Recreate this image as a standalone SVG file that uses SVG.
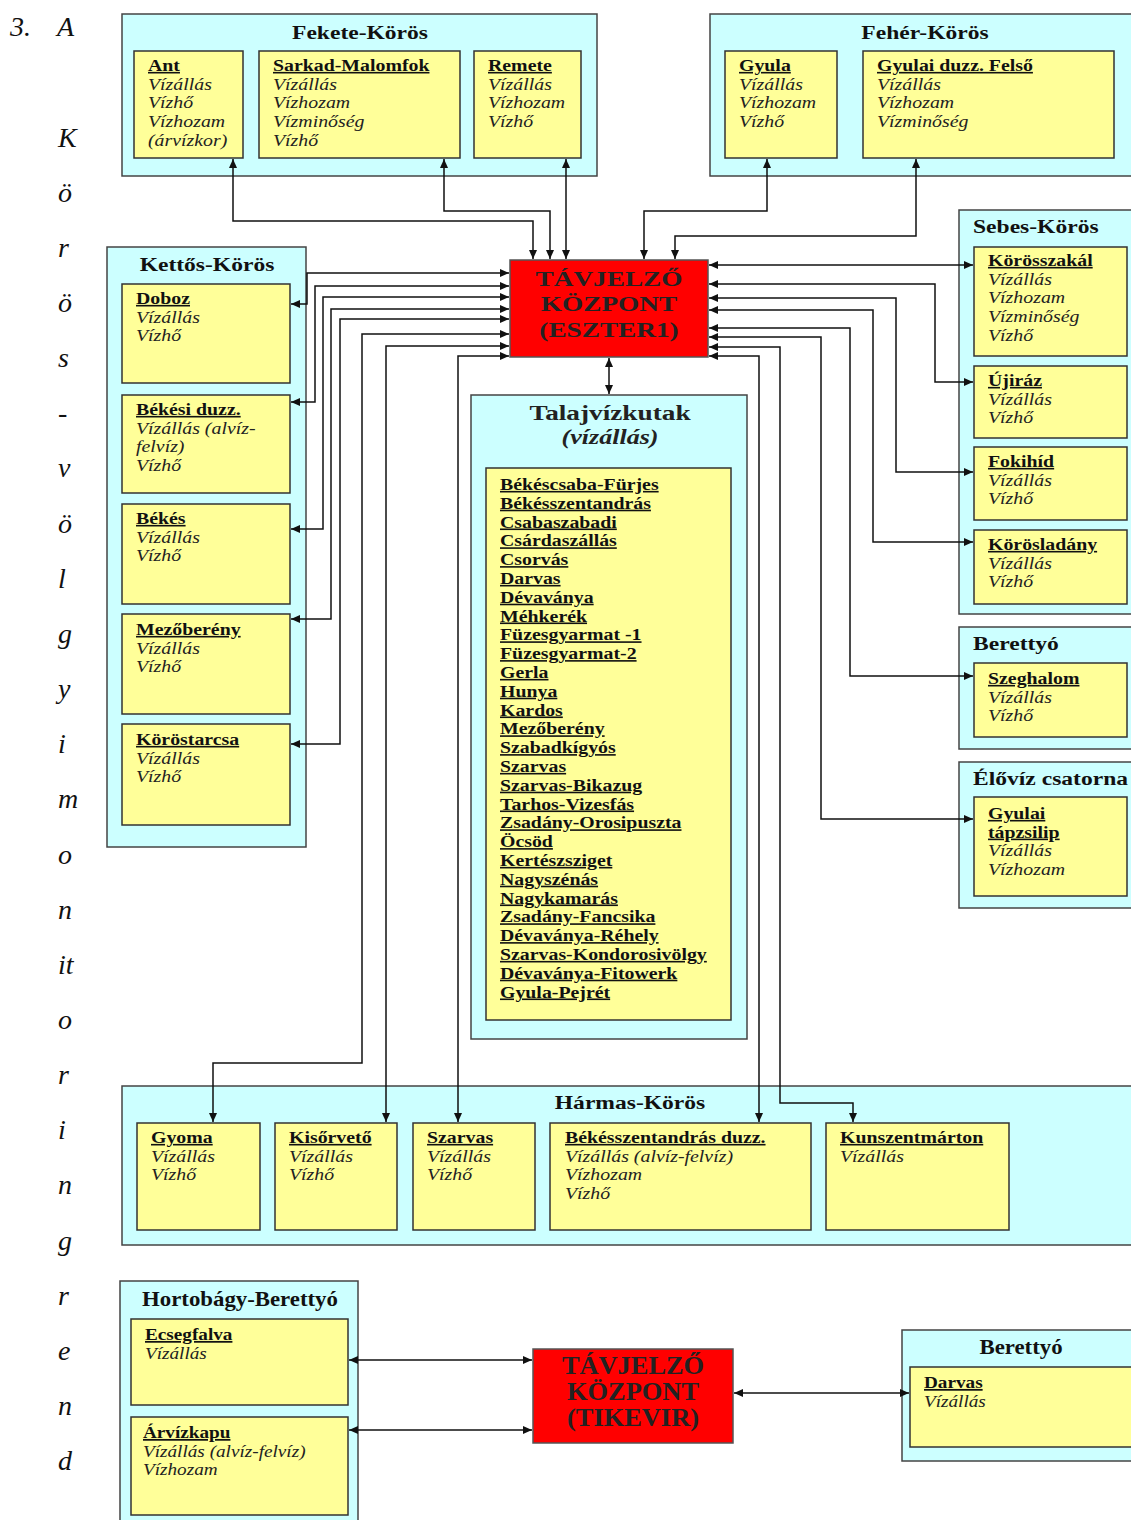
<svg xmlns="http://www.w3.org/2000/svg" width="1131" height="1520" viewBox="0 0 1131 1520">
<defs>
<style>
text{font-family:"Liberation Serif","Times New Roman",serif;fill:#111}
.grp{fill:#CCFFFF;stroke:#444;stroke-width:1.5}
.nd{fill:#FFFF99;stroke:#333;stroke-width:1.5}
.red{fill:#FF0000;stroke:#555;stroke-width:1.5}
.gt{font-size:19px;font-weight:bold}
.gc{font-size:19px;font-weight:bold;text-anchor:middle}
.nt{font-size:16px;font-weight:bold;text-decoration:underline}
.it{font-size:16px;font-style:italic;fill:#222}
.ct{font-size:22px;font-weight:bold;text-anchor:middle;fill:#222}
.side{font-size:28px;font-style:italic}
.cn{fill:none;stroke:#111;stroke-width:1.5;marker-start:url(#ah);marker-end:url(#ah)}
</style>
<marker id="ah" markerUnits="userSpaceOnUse" markerWidth="10" markerHeight="8" refX="9" refY="4" orient="auto-start-reverse">
<path d="M0,0 L9,4 L0,8 z" fill="#111"/>
</marker>
</defs>
<rect width="1131" height="1520" fill="#fff"/>

<g id="side-text">
<text class="side" x="10" y="36">3.</text>
<text class="side" x="57" y="36">A</text>
<text class="side" x="58" y="146.5">K</text>
<text class="side" x="58" y="201.7">ö</text>
<text class="side" x="58" y="256.8">r</text>
<text class="side" x="58" y="312">ö</text>
<text class="side" x="58" y="367.1">s</text>
<text class="side" x="58" y="422.3">-</text>
<text class="side" x="58" y="477.4">v</text>
<text class="side" x="58" y="532.6">ö</text>
<text class="side" x="58" y="587.7">l</text>
<text class="side" x="58" y="642.9">g</text>
<text class="side" x="58" y="698">y</text>
<text class="side" x="58" y="753.2">i</text>
<text class="side" x="58" y="808.3">m</text>
<text class="side" x="58" y="863.5">o</text>
<text class="side" x="58" y="918.6">n</text>
<text class="side" x="58" y="973.8">it</text>
<text class="side" x="58" y="1028.9">o</text>
<text class="side" x="58" y="1084.1">r</text>
<text class="side" x="58" y="1139.2">i</text>
<text class="side" x="58" y="1194.4">n</text>
<text class="side" x="58" y="1249.5">g</text>
<text class="side" x="58" y="1304.7">r</text>
<text class="side" x="58" y="1359.8">e</text>
<text class="side" x="58" y="1415">n</text>
<text class="side" x="58" y="1470.1">d</text>
</g>

<g id="fekete-koros">
<rect class="grp" x="122" y="14" width="475" height="162"/>
<g transform="translate(360,39) scale(1.24,1)"><text class="gc">Fekete-Körös</text></g>
</g>
<g id="ant">
<rect class="nd" x="134" y="51" width="109" height="107"/>
<g transform="translate(148,71) scale(1.24,1)"><text class="nt">Ant</text><text class="it" y="18.7">Vízállás</text><text class="it" y="37.4">Vízhő</text><text class="it" y="56.1">Vízhozam</text><text class="it" y="74.8">(árvízkor)</text></g>
</g>
<g id="sarkad">
<rect class="nd" x="259" y="51" width="201" height="107"/>
<g transform="translate(273,71) scale(1.24,1)"><text class="nt">Sarkad-Malomfok</text><text class="it" y="18.7">Vízállás</text><text class="it" y="37.4">Vízhozam</text><text class="it" y="56.1">Vízminőség</text><text class="it" y="74.8">Vízhő</text></g>
</g>
<g id="remete">
<rect class="nd" x="474" y="51" width="107" height="107"/>
<g transform="translate(488,71) scale(1.24,1)"><text class="nt">Remete</text><text class="it" y="18.7">Vízállás</text><text class="it" y="37.4">Vízhozam</text><text class="it" y="56.1">Vízhő</text></g>
</g>

<g id="feher-koros">
<rect class="grp" x="710" y="14" width="430" height="162"/>
<g transform="translate(925,39) scale(1.24,1)"><text class="gc">Fehér-Körös</text></g>
</g>
<g id="gyula">
<rect class="nd" x="725" y="51" width="112" height="107"/>
<g transform="translate(739,71) scale(1.24,1)"><text class="nt">Gyula</text><text class="it" y="18.7">Vízállás</text><text class="it" y="37.4">Vízhozam</text><text class="it" y="56.1">Vízhő</text></g>
</g>
<g id="gyulai-duzz">
<rect class="nd" x="863" y="51" width="251" height="107"/>
<g transform="translate(877,71) scale(1.24,1)"><text class="nt">Gyulai duzz. Felső</text><text class="it" y="18.7">Vízállás</text><text class="it" y="37.4">Vízhozam</text><text class="it" y="56.1">Vízminőség</text></g>
</g>

<g id="sebes-koros">
<rect class="grp" x="959" y="210" width="180" height="404"/>
<g transform="translate(973,233) scale(1.24,1)"><text class="gt">Sebes-Körös</text></g>
</g>
<g id="korosszakal">
<rect class="nd" x="974" y="247" width="153" height="109"/>
<g transform="translate(988,266) scale(1.24,1)"><text class="nt">Körösszakál</text><text class="it" y="18.7">Vízállás</text><text class="it" y="37.4">Vízhozam</text><text class="it" y="56.1">Vízminőség</text><text class="it" y="74.8">Vízhő</text></g>
</g>
<g id="ujiraz">
<rect class="nd" x="974" y="366" width="153" height="72"/>
<g transform="translate(988,386) scale(1.24,1)"><text class="nt">Újiráz</text><text class="it" y="18.7">Vízállás</text><text class="it" y="37.4">Vízhő</text></g>
</g>
<g id="fokihid">
<rect class="nd" x="974" y="447" width="153" height="73"/>
<g transform="translate(988,467) scale(1.24,1)"><text class="nt">Fokihíd</text><text class="it" y="18.7">Vízállás</text><text class="it" y="37.4">Vízhő</text></g>
</g>
<g id="koroslladany">
<rect class="nd" x="974" y="530" width="153" height="74"/>
<g transform="translate(988,550) scale(1.24,1)"><text class="nt">Körösladány</text><text class="it" y="18.7">Vízállás</text><text class="it" y="37.4">Vízhő</text></g>
</g>

<g id="berettyo">
<rect class="grp" x="959" y="627" width="180" height="122"/>
<g transform="translate(973,650) scale(1.24,1)"><text class="gt">Berettyó</text></g>
</g>
<g id="szeghalom">
<rect class="nd" x="974" y="663" width="153" height="74"/>
<g transform="translate(988,684) scale(1.24,1)"><text class="nt">Szeghalom</text><text class="it" y="18.7">Vízállás</text><text class="it" y="37.4">Vízhő</text></g>
</g>

<g id="eloviz">
<rect class="grp" x="959" y="762" width="180" height="146"/>
<g transform="translate(973,785) scale(1.24,1)"><text class="gt">Élővíz csatorna</text></g>
</g>
<g id="gyulai-tapzsilip">
<rect class="nd" x="974" y="797" width="153" height="99"/>
<g transform="translate(988,819) scale(1.24,1)"><text class="nt">Gyulai</text><text class="nt" y="18.7">tápzsilip</text><text class="it" y="37.4">Vízállás</text><text class="it" y="56.1">Vízhozam</text></g>
</g>

<g id="kettos-koros">
<rect class="grp" x="107" y="247" width="199" height="600"/>
<g transform="translate(207,271) scale(1.24,1)"><text class="gc">Kettős-Körös</text></g>
</g>
<g id="doboz">
<rect class="nd" x="122" y="284" width="168" height="99"/>
<g transform="translate(136,304) scale(1.24,1)"><text class="nt">Doboz</text><text class="it" y="18.7">Vízállás</text><text class="it" y="37.4">Vízhő</text></g>
</g>
<g id="bekesi-duzz">
<rect class="nd" x="122" y="395" width="168" height="98"/>
<g transform="translate(136,415) scale(1.24,1)"><text class="nt">Békési duzz.</text><text class="it" y="18.7">Vízállás (alvíz-</text><text class="it" y="37.4">felvíz)</text><text class="it" y="56.1">Vízhő</text></g>
</g>
<g id="bekes">
<rect class="nd" x="122" y="504" width="168" height="100"/>
<g transform="translate(136,524) scale(1.24,1)"><text class="nt">Békés</text><text class="it" y="18.7">Vízállás</text><text class="it" y="37.4">Vízhő</text></g>
</g>
<g id="mezobereny">
<rect class="nd" x="122" y="614" width="168" height="100"/>
<g transform="translate(136,635) scale(1.24,1)"><text class="nt">Mezőberény</text><text class="it" y="18.7">Vízállás</text><text class="it" y="37.4">Vízhő</text></g>
</g>
<g id="korostarcsa">
<rect class="nd" x="122" y="724" width="168" height="101"/>
<g transform="translate(136,745) scale(1.24,1)"><text class="nt">Köröstarcsa</text><text class="it" y="18.7">Vízállás</text><text class="it" y="37.4">Vízhő</text></g>
</g>

<g id="eszter1">
<rect class="red" x="510" y="260" width="198" height="97"/>
<g transform="translate(609,286) scale(1.24,1)"><text class="ct">TÁVJELZŐ</text><text class="ct" y="25.5">KÖZPONT</text><text class="ct" y="51">(ESZTER1)</text></g>
</g>

<g id="talajvizkutak">
<rect class="grp" x="471" y="395" width="276" height="644"/>
<g transform="translate(610,420) scale(1.24,1)"><text class="ct">Talajvízkutak</text><text class="ct" y="24" style="font-size:21px;font-style:italic">(vízállás)</text></g>
<rect class="nd" x="486" y="468" width="245" height="552"/>
<g transform="translate(500,490) scale(1.24,1)">
<text class="nt">Békéscsaba-Fürjes</text>
<text class="nt" y="18.8">Békésszentandrás</text>
<text class="nt" y="37.6">Csabaszabadi</text>
<text class="nt" y="56.4">Csárdaszállás</text>
<text class="nt" y="75.2">Csorvás</text>
<text class="nt" y="94">Darvas</text>
<text class="nt" y="112.8">Dévaványa</text>
<text class="nt" y="131.6">Méhkerék</text>
<text class="nt" y="150.4">Füzesgyarmat -1</text>
<text class="nt" y="169.2">Füzesgyarmat-2</text>
<text class="nt" y="188">Gerla</text>
<text class="nt" y="206.8">Hunya</text>
<text class="nt" y="225.6">Kardos</text>
<text class="nt" y="244.4">Mezőberény</text>
<text class="nt" y="263.2">Szabadkígyós</text>
<text class="nt" y="282">Szarvas</text>
<text class="nt" y="300.8">Szarvas-Bikazug</text>
<text class="nt" y="319.6">Tarhos-Vizesfás</text>
<text class="nt" y="338.4">Zsadány-Orosipuszta</text>
<text class="nt" y="357.2">Öcsöd</text>
<text class="nt" y="376">Kertészsziget</text>
<text class="nt" y="394.8">Nagyszénás</text>
<text class="nt" y="413.6">Nagykamarás</text>
<text class="nt" y="432.4">Zsadány-Fancsika</text>
<text class="nt" y="451.2">Dévaványa-Réhely</text>
<text class="nt" y="470">Szarvas-Kondorosivölgy</text>
<text class="nt" y="488.8">Dévaványa-Fitowerk</text>
<text class="nt" y="507.6">Gyula-Pejrét</text>
</g>
</g>

<g id="harmas-koros">
<rect class="grp" x="122" y="1086" width="1015" height="159"/>
<g transform="translate(630,1109) scale(1.24,1)"><text class="gc">Hármas-Körös</text></g>
</g>
<g id="gyoma">
<rect class="nd" x="137" y="1123" width="123" height="107"/>
<g transform="translate(151,1143) scale(1.24,1)"><text class="nt">Gyoma</text><text class="it" y="18.7">Vízállás</text><text class="it" y="37.4">Vízhő</text></g>
</g>
<g id="kisorveto">
<rect class="nd" x="275" y="1123" width="122" height="107"/>
<g transform="translate(289,1143) scale(1.24,1)"><text class="nt">Kisőrvető</text><text class="it" y="18.7">Vízállás</text><text class="it" y="37.4">Vízhő</text></g>
</g>
<g id="szarvas">
<rect class="nd" x="413" y="1123" width="122" height="107"/>
<g transform="translate(427,1143) scale(1.24,1)"><text class="nt">Szarvas</text><text class="it" y="18.7">Vízállás</text><text class="it" y="37.4">Vízhő</text></g>
</g>
<g id="bekesszentandras-duzz">
<rect class="nd" x="550" y="1123" width="261" height="107"/>
<g transform="translate(565,1143) scale(1.24,1)"><text class="nt">Békésszentandrás duzz.</text><text class="it" y="18.7">Vízállás (alvíz-felvíz)</text><text class="it" y="37.4">Vízhozam</text><text class="it" y="56.1">Vízhő</text></g>
</g>
<g id="kunszentmarton">
<rect class="nd" x="826" y="1123" width="183" height="107"/>
<g transform="translate(840,1143) scale(1.24,1)"><text class="nt">Kunszentmárton</text><text class="it" y="18.7">Vízállás</text></g>
</g>

<g id="hortobagy-berettyo">
<rect class="grp" x="120" y="1281" width="238" height="250"/>
<g transform="translate(240,1306) scale(1.2,1.1)"><text class="gc">Hortobágy-Berettyó</text></g>
</g>
<g id="ecsegfalva">
<rect class="nd" x="131" y="1319" width="217" height="86"/>
<g transform="translate(145,1340) scale(1.2,1.1)"><text class="nt">Ecsegfalva</text><text class="it" y="17">Vízállás</text></g>
</g>
<g id="arvizkapu">
<rect class="nd" x="131" y="1417" width="217" height="98"/>
<g transform="translate(143,1438) scale(1.2,1.1)"><text class="nt">Árvízkapu</text><text class="it" y="17">Vízállás (alvíz-felvíz)</text><text class="it" y="34">Vízhozam</text></g>
</g>
<g id="tikevir">
<rect class="red" x="533" y="1349" width="200" height="94"/>
<g transform="translate(633,1374) scale(1.2,1.1)"><text class="ct">TÁVJELZŐ</text><text class="ct" y="23.5">KÖZPONT</text><text class="ct" y="47">(TIKEVIR)</text></g>
</g>
<g id="berettyo-2">
<rect class="grp" x="902" y="1330" width="235" height="131"/>
<g transform="translate(1021,1354) scale(1.2,1.1)"><text class="gc">Berettyó</text></g>
</g>
<g id="darvas">
<rect class="nd" x="910" y="1367" width="225" height="80"/>
<g transform="translate(924,1388) scale(1.2,1.1)"><text class="nt">Darvas</text><text class="it" y="17">Vízállás</text></g>
</g>

<g id="connectors">
<path class="cn" d="M233,159 V221 H533 V259"/>
<path class="cn" d="M444,159 V211 H550 V259"/>
<path class="cn" d="M566,159 V259"/>
<path class="cn" d="M767,159 V211 H644 V259"/>
<path class="cn" d="M916,159 V236 H675 V259"/>
<path class="cn" d="M291,304 H307 V273 H509"/>
<path class="cn" d="M291,402 H315 V286 H509"/>
<path class="cn" d="M291,529 H323 V297 H509"/>
<path class="cn" d="M291,619 H331 V309 H509"/>
<path class="cn" d="M291,744 H340 V319 H509"/>
<path class="cn" d="M509,334 H362 V1063 H213 V1122"/>
<path class="cn" d="M509,346 H386 V1122"/>
<path class="cn" d="M509,356 H458 V1122"/>
<path class="cn" d="M709,265 H973"/>
<path class="cn" d="M709,284 H935 V382 H973"/>
<path class="cn" d="M709,298 H896 V472 H973"/>
<path class="cn" d="M709,310 H873 V542 H973"/>
<path class="cn" d="M709,328 H850 V676 H973"/>
<path class="cn" d="M709,337 H821 V819 H973"/>
<path class="cn" d="M709,347 H780 V1103 H853 V1122"/>
<path class="cn" d="M709,356 H759 V1122"/>
<path class="cn" d="M609,358 V394"/>
<path class="cn" d="M349,1360 H532"/>
<path class="cn" d="M349,1430 H532"/>
<path class="cn" d="M734,1393 H909"/>
</g>
</svg>
